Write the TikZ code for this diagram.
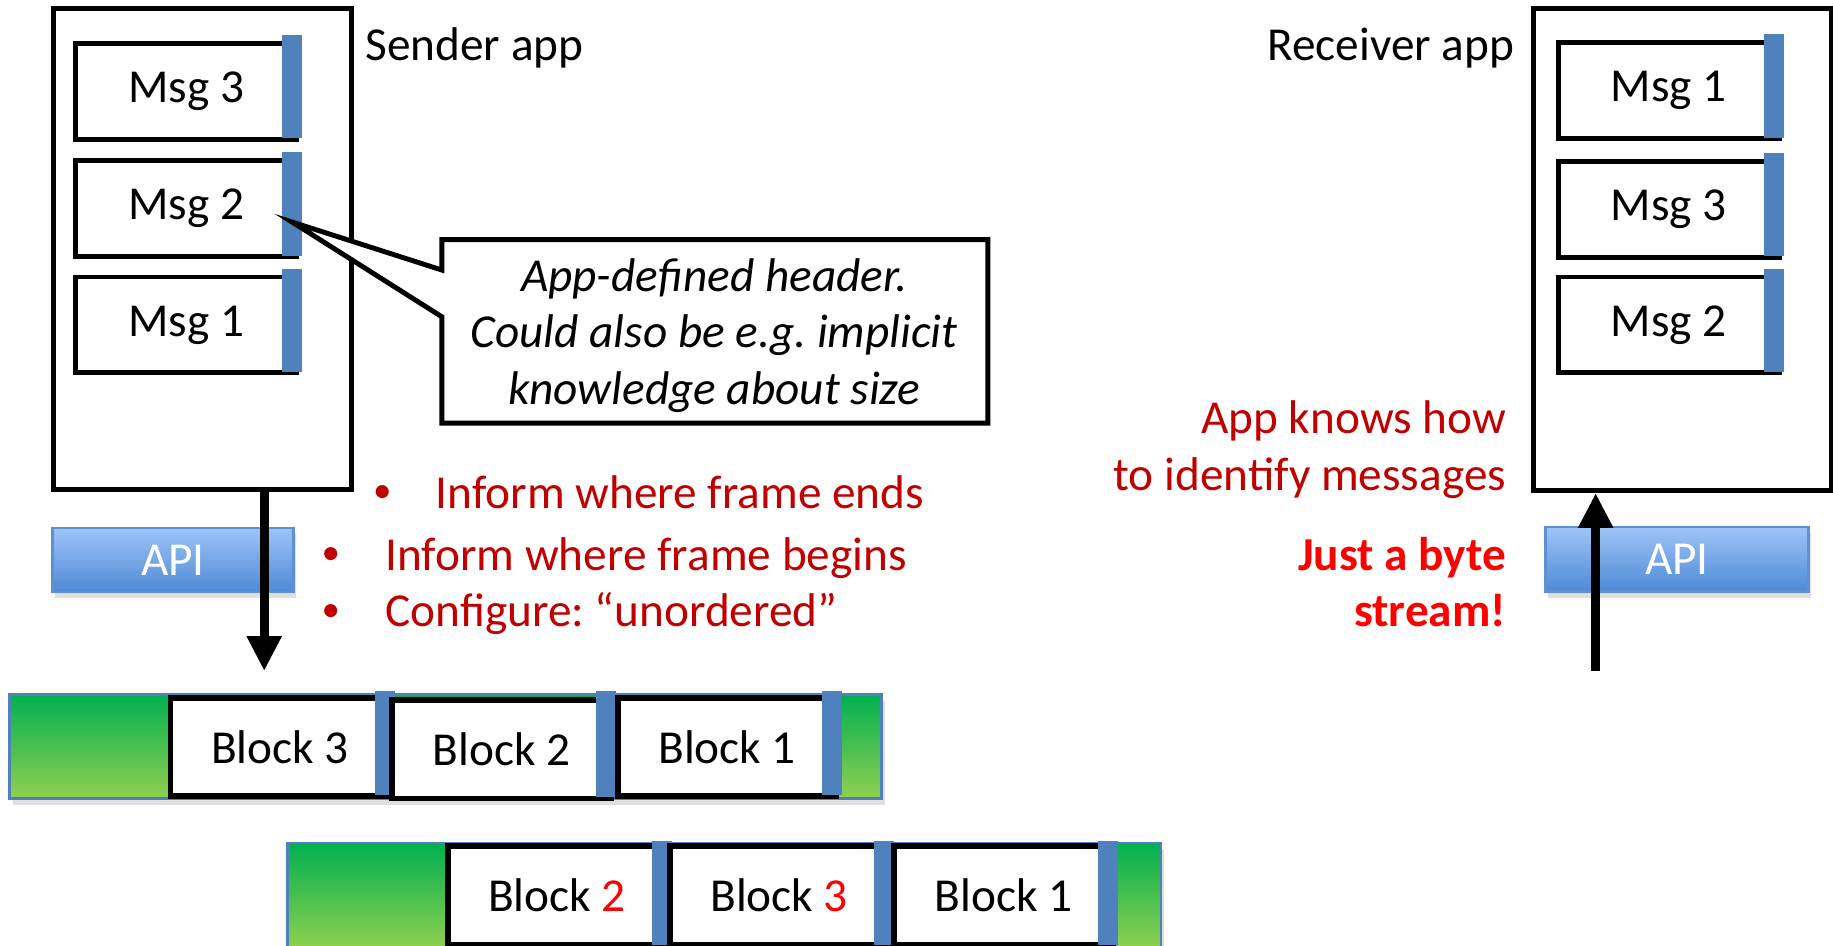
\documentclass[tikz,border=0pt]{standalone}
\usepackage{fontspec}
\setmainfont{Carlito}
\usetikzlibrary{calc,arrows.meta,shadows}
\frenchspacing
\definecolor{hdrblue}{RGB}{79,129,189}
\definecolor{apitop}{RGB}{158,196,247}
\definecolor{apibot}{RGB}{78,138,214}
\definecolor{apiline}{RGB}{95,145,210}
\definecolor{grtop}{RGB}{0,176,80}
\definecolor{grbot}{RGB}{146,208,80}
\definecolor{darkred}{RGB}{192,0,0}
\definecolor{brightred}{RGB}{255,0,0}
\tikzset{
  txt/.style={font=\fontsize{11.5}{13.8}\selectfont},
  appbox/.style={draw, line width=1.2pt, fill=white, minimum width=2.55cm, minimum height=4.12cm, inner sep=0},
  msgbox/.style={draw, line width=1.2pt, fill=white, minimum width=1.89cm, minimum height=0.82cm, inner sep=0, txt},
  blockbox/.style={draw, line width=1.4pt, fill=white, minimum width=1.87cm, minimum height=0.84cm, inner sep=0, txt},
  hdrbar/.style={fill=hdrblue},
  apibox/.style={draw=apiline, line width=0.6pt, top color=apitop, bottom color=apibot, text=white, minimum height=0.55cm, inner sep=0, txt,
    drop shadow={opacity=0.25, shadow xshift=0.6pt, shadow yshift=-1.5pt}},
  strip/.style={draw=hdrblue, line width=0.6pt, top color=grtop, bottom color=grbot,
    drop shadow={opacity=0.25, shadow xshift=0.8pt, shadow yshift=-1.5pt}},
  note/.style={txt, text=darkred, inner sep=0},
  dot/.style={font=\fontsize{9}{10}\selectfont, text=darkred, inner sep=0},
  alert/.style={font={\fontsize{11.5}{13.8}\selectfont\bfseries}, text=brightred, inner sep=0},
  bigarrow/.style={line width=2.2pt, -{Triangle[length=8.5pt,width=8pt]}},
}
\begin{document}
\begin{tikzpicture}[x=0.01cm,y=-0.01cm]
			\useasboundingbox (0,0) rectangle (1568,809);
			%%%%% SENDER %%%%%
			
			\node[appbox] (sender) at (173.5,213) {};
			\node[txt, anchor=base west, inner sep=0] (sendlbl) at (312,52) {Sender app};
			
			\node[msgbox] (s3) at (159.5,78) {Msg 3};
			\fill[hdrbar] ($(s3.north east)+(-15,-5)$) rectangle ($(s3.south east)+(2,-3)$);
			\node[msgbox] (s2) at (159.5,178.5) {Msg 2};
			\fill[hdrbar] ($(s2.north east)+(-15,-5)$) rectangle ($(s2.south east)+(2,-3)$);
			\node[msgbox] (s1) at (159.5,278) {Msg 1};
			\fill[hdrbar] ($(s1.north east)+(-15,-5)$) rectangle ($(s1.south east)+(2,-3)$);
			
			% callout on the header of Msg 2
			\coordinate (tip) at (250,190);
			\draw[line width=1.2pt, fill=white, line join=miter] (tip) -- (378,231) -- (378,205) -- (845,205) -- (845,362) -- (378,362) -- (378,271) -- cycle;
			\node[font={\fontsize{11.5}{13.7}\selectfont\itshape}, align=center, inner sep=0] (hdrnote) at (611,287)
				{App-defined header.\\Could also be e.g. implicit\\knowledge about size};
			
			\node[dot] (bul1) at (327,423) {•};
			\node[note, anchor=base west] (inf1) at (372,435) {Inform where frame ends};
			\node[dot] (bul2) at (283,476) {•};
			\node[note, anchor=base west] (inf2) at (329,488) {Inform where frame begins};
			\node[dot] (bul3) at (283,524) {•};
			\node[note, anchor=base west] (inf3) at (329,536) {Configure: “unordered”};
			
			\node[apibox, minimum width=2.06cm] (apis) at (148,479) {API};
			\coordinate (down) at (226,574);
			\draw[bigarrow] (sender.south -| down) -- (down);
			
			%%%%% BLOCKS SENT %%%%%
			
			\draw[strip] (8,594) rectangle (754,683);
			\node[blockbox] (b3) at (239.5,639) {Block 3};
			\fill[hdrbar] ($(b3.north east)+(-15,-3)$) rectangle ($(b3.south east)+(2,-3)$);
			\node[blockbox] (b2) at (429,641) {Block 2};
			\fill[hdrbar] ($(b2.north east)+(-15,-5)$) rectangle ($(b2.south east)+(2,-4)$);
			\node[blockbox] (b1) at (622,639) {Block 1};
			\fill[hdrbar] ($(b1.north east)+(-15,-3)$) rectangle ($(b1.south east)+(2,-3)$);
			
			%%%%% BLOCKS RECEIVED %%%%%
			
			\draw[strip] (246,721) rectangle (993,812);
			\node[blockbox] (c2) at (476.5,766) {Block \textcolor{brightred}{2}};
			\fill[hdrbar] ($(c2.north east)+(-15,-2)$) rectangle ($(c2.south east)+(2,-2)$);
			\node[blockbox] (c3) at (666.5,766) {Block \textcolor{brightred}{3}};
			\fill[hdrbar] ($(c3.north east)+(-15,-2)$) rectangle ($(c3.south east)+(2,-2)$);
			\node[blockbox] (c1) at (858.5,766) {Block 1};
			\fill[hdrbar] ($(c1.north east)+(-15,-2)$) rectangle ($(c1.south east)+(2,-2)$);
			
			%%%%% RECEIVER %%%%%
			
			\node[appbox] (receiver) at (1439,213.5) {};
			\node[txt, anchor=base east, inner sep=0] (recvlbl) at (1296,52) {Receiver app};
			
			\node[msgbox] (r1) at (1427.5,77.5) {Msg 1};
			\fill[hdrbar] ($(r1.north east)+(-15,-5)$) rectangle ($(r1.south east)+(2,-3)$);
			\node[msgbox] (r3) at (1427.5,179) {Msg 3};
			\fill[hdrbar] ($(r3.north east)+(-15,-5)$) rectangle ($(r3.south east)+(2,-3)$);
			\node[msgbox] (r2) at (1427.5,278) {Msg 2};
			\fill[hdrbar] ($(r2.north east)+(-15,-5)$) rectangle ($(r2.south east)+(2,-3)$);
			
			\node[note, anchor=base east] (knows1) at (1289,371) {App knows how};
			\node[note, anchor=base east] (knows2) at (1289,420) {to identify messages};
			\node[alert, anchor=base east] (byte1) at (1289,488) {Just a byte};
			\node[alert, anchor=base east] (byte2) at (1289,536) {stream!};
			
			\node[apibox, minimum width=2.25cm] (apir) at (1434.5,478.5) {API};
			\coordinate (up) at (1365,574);
			\draw[bigarrow] (up) -- (up |- receiver.south);
			
			%%%%% END %%%%%
\end{tikzpicture}
\end{document}
